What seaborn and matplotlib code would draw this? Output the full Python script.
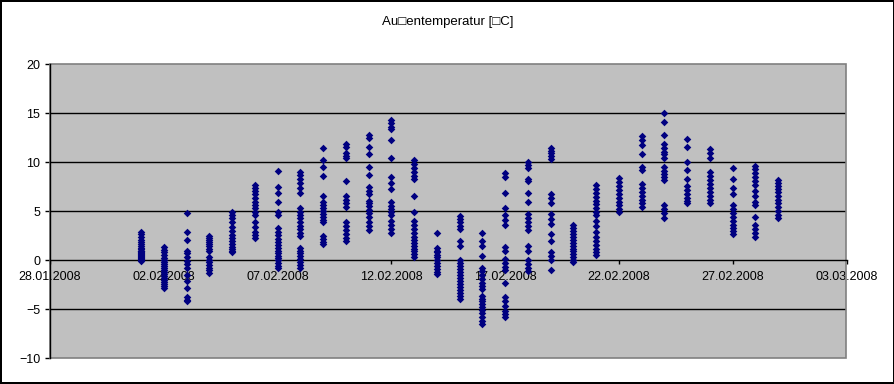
import matplotlib
matplotlib.use("Agg")
import matplotlib.pyplot as plt
import matplotlib.dates as mdates
from matplotlib.patches import Rectangle
import pandas as pd
import seaborn as sns

plt.rcParams['font.family'] = ['Liberation Sans', 'DejaVu Sans']

title = "Au\u25a1entemperatur [\u25a1C]"

# ---- data (one column of readings per day) ----
d_0102 = [2.9, 2.7, 2.4, 2.1, 1.9, 1.7, 1.5, 1.3, 1.2, 1.0, 0.9, 0.8, 0.7, 0.6, 0.5, 0.4, 0.3, 0.2, 0.1, 0.0, -0.1]
d_0202 = [1.4, 1.1, 0.8, 0.5, 0.2, 0.0, -0.2, -0.4, -0.6, -0.8, -1.0, -1.2, -1.4, -1.6, -1.8, -2.0, -2.2, -2.4, -2.6, -2.8]
d_0302 = [4.8, 2.9, 2.1, 0.9, 0.7, 0.3, -0.1, -0.4, -0.8, -1.5, -2.1, -2.8, -3.7, -4.0, -4.2]
d_0402 = [2.5, 2.3, 2.1, 1.9, 1.7, 1.5, 1.2, 0.9, 0.3, 0.0, -0.2, -0.5, -0.8, -1.0, -1.3]
d_0502 = [4.9, 4.6, 4.3, 3.9, 3.4, 3.0, 2.6, 2.3, 2.0, 1.7, 1.4, 1.2, 1.0, 0.8]
d_0602 = [7.7, 7.4, 7.1, 6.8, 6.4, 6.0, 5.6, 5.3, 4.9, 4.6, 3.9, 3.4, 2.9, 2.6, 2.3]
d_0702 = [9.1, 7.5, 6.9, 5.9, 4.9, 4.6, 3.3, 2.9, 2.6, 2.2, 1.9, 1.6, 1.3, 1.0, 0.7, 0.4, 0.2, 0.0, -0.3, -0.6, -0.8]
d_0802 = [9.0, 8.7, 8.3, 7.9, 7.4, 6.9, 5.3, 4.9, 4.6, 4.3, 3.9, 3.5, 3.2, 2.8, 2.5, 1.3, 1.0, 0.7, 0.4, 0.1, -0.2, -0.5, -0.8]
d_0902 = [11.5, 10.2, 9.5, 8.6, 6.6, 6.0, 5.6, 5.3, 5.0, 4.7, 4.4, 4.1, 3.9, 2.5, 2.2, 1.9, 1.7]
d_1002 = [11.9, 11.6, 11.0, 10.6, 10.4, 8.1, 6.6, 6.2, 5.8, 5.4, 3.9, 3.5, 3.1, 2.7, 2.3, 2.0]
d_1102 = [12.8, 12.5, 11.6, 10.8, 9.5, 8.7, 7.5, 7.1, 6.8, 6.1, 5.8, 5.5, 5.1, 4.8, 4.4, 3.9, 3.5, 3.1]
d_1202 = [14.3, 14.0, 13.6, 13.4, 12.3, 10.4, 8.5, 7.9, 7.3, 5.9, 5.5, 5.2, 4.9, 4.6, 4.0, 3.6, 3.2, 2.8]
d_1302 = [10.2, 9.8, 9.4, 9.0, 8.6, 8.3, 6.6, 4.9, 4.0, 3.6, 3.2, 2.8, 2.4, 2.1, 1.8, 1.5, 1.2, 0.9, 0.6, 0.3]
d_1402 = [2.8, 1.3, 1.0, 0.8, 0.5, 0.3, 0.0, -0.3, -0.6, -0.9, -1.2, -1.4]
d_1502 = [4.5, 4.2, 3.9, 3.5, 3.2, 2.0, 1.5, 0.0, -0.3, -0.6, -0.9, -1.2, -1.5, -1.8, -2.1, -2.4, -2.7, -3.0, -3.3, -3.6, -3.9]
d_1602 = [2.8, 2.0, 1.5, 0.4, -0.8, -1.1, -1.5, -1.9, -2.3, -2.6, -2.9, -3.6, -3.9, -4.2, -4.5, -4.8, -5.1, -5.4, -5.8, -6.2, -6.5]
d_1702 = [8.9, 8.5, 6.9, 5.3, 4.6, 4.1, 3.6, 1.4, 0.9, 0.1, -0.3, -0.7, -1.0, -2.3, -3.7, -4.2, -4.7, -5.2, -5.5, -5.8]
d_1802 = [10.0, 9.7, 9.4, 8.3, 8.1, 6.9, 5.9, 4.7, 4.3, 3.9, 3.5, 3.1, 1.5, 0.9, 0.0, -0.4, -0.8, -1.1]
d_1902 = [11.5, 11.2, 10.9, 10.6, 10.3, 6.8, 6.4, 5.8, 4.7, 4.2, 3.7, 2.7, 2.0, 0.8, 0.4, 0.0, -1.0]
d_2002 = [3.6, 3.3, 3.0, 2.7, 2.4, 2.1, 1.8, 1.5, 1.2, 0.9, 0.6, 0.3, 0.0, -0.2]
d_2102 = [7.7, 7.3, 6.9, 6.5, 6.1, 5.7, 5.3, 4.9, 4.6, 4.0, 3.5, 2.9, 2.4, 2.0, 1.6, 1.2, 0.8, 0.5]
d_2202 = [8.4, 8.0, 7.6, 7.2, 6.8, 6.4, 6.0, 5.6, 5.2, 4.9]
d_2302 = [12.7, 12.3, 11.8, 10.8, 9.5, 9.2, 7.8, 7.4, 7.0, 6.6, 6.2, 5.8, 5.4]
d_2402 = [15.0, 14.1, 12.8, 11.9, 11.5, 11.1, 10.8, 10.4, 9.5, 9.1, 8.8, 8.5, 8.2, 5.6, 5.2, 4.8, 4.3]
d_2502 = [12.4, 11.6, 10.0, 9.2, 8.3, 7.6, 7.2, 6.8, 6.4, 6.1, 5.8]
d_2602 = [11.4, 11.0, 10.4, 9.0, 8.6, 8.2, 7.8, 7.4, 7.0, 6.6, 6.2, 5.8]
d_2702 = [9.4, 8.3, 7.4, 6.8, 5.6, 5.2, 4.8, 4.4, 4.0, 3.6, 3.3, 3.0, 2.7]
d_2802 = [9.6, 9.3, 8.9, 8.5, 8.1, 7.7, 7.1, 6.6, 6.0, 5.6, 4.4, 3.6, 3.2, 2.8, 2.4]
d_2902 = [8.2, 7.9, 7.6, 7.3, 7.0, 6.6, 6.2, 5.8, 5.4, 5.0, 4.6, 4.3]

days = ["2008-02-%02d" % i for i in range(1, 30)]
columns = [d_0102, d_0202, d_0302, d_0402, d_0502, d_0602, d_0702, d_0802, d_0902, d_1002,
           d_1102, d_1202, d_1302, d_1402, d_1502, d_1602, d_1702, d_1802, d_1902, d_2002,
           d_2102, d_2202, d_2302, d_2402, d_2502, d_2602, d_2702, d_2802, d_2902]

x_start = "2008-01-28"
x_end = "2008-03-03"
y_ticks = [-10, -5, 0, 5, 10, 15, 20]

rows = []
for day, vals in zip(days, columns):
    for v in vals:
        rows.append((pd.Timestamp(day), v))
df = pd.DataFrame(rows, columns=["Datum", "Temperatur"])

# ---- figure ----
W, H = 895, 384
fig = plt.figure(figsize=(W / 100, H / 100), dpi=100)
fig.patch.set_facecolor("white")
fig.patch.set_edgecolor("black")
fig.patch.set_linewidth(1.5)

L, R, T, B = 50, 846.5, 64.3, 358.3
ax = fig.add_axes([L / W, (H - B) / H, (R - L) / W, (B - T) / H])
ax.set_facecolor("#C0C0C0")

sns.scatterplot(data=df, x="Datum", y="Temperatur", marker="D", color="#000080",
                s=15, linewidth=0, ax=ax, zorder=4, legend=False)

ax.set_xlim(pd.Timestamp(x_start), pd.Timestamp(x_end))
ax.set_ylim(y_ticks[0], y_ticks[-1])
ax.set_yticks(y_ticks)
ax.set_xticks(pd.date_range(x_start, x_end, freq="5D"))
ax.xaxis.set_major_formatter(mdates.DateFormatter("%d.%m.%Y"))
ax.set_xlabel("")
ax.set_ylabel("")

for v in y_ticks[1:-1]:
    if v != 0:
        ax.axhline(v, color="black", lw=1, zorder=1)

for s in ["top", "right"]:
    ax.spines[s].set_visible(False)
ax.spines["bottom"].set_position(("data", 0))
ax.spines["bottom"].set_color("black")
ax.spines["bottom"].set_linewidth(1)
ax.spines["left"].set_color("black")
ax.spines["left"].set_linewidth(1)
ax.add_patch(Rectangle((0, 0), 1, 1, transform=ax.transAxes, fill=False,
                       edgecolor="#808080", lw=1.2, zorder=2, clip_on=False))

ax.tick_params(axis="y", direction="out", length=3.6, width=1, pad=3.5, labelsize=9, colors="black")
ax.tick_params(axis="x", direction="out", length=3, width=1, pad=4.5, labelsize=9, colors="black")

fig.text(0.5, 1 - 21.5 / H, title, ha="center", va="center", fontsize=9.5)

fig.savefig("out.png", dpi=100, facecolor="white", edgecolor="black")
